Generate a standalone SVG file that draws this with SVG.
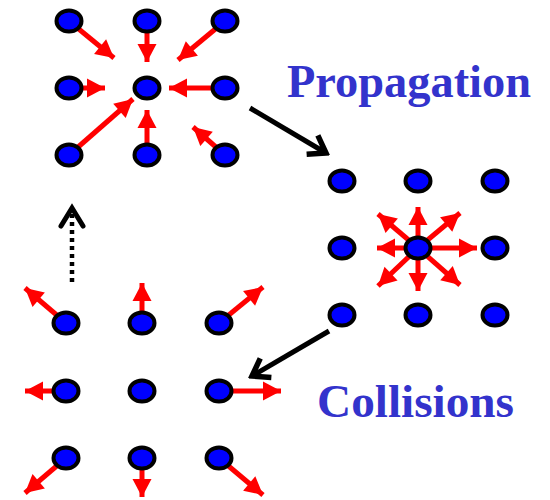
<svg xmlns="http://www.w3.org/2000/svg" width="550" height="500" viewBox="0 0 550 500">
<style>
.node ellipse{fill:#0000ff;stroke:#000;stroke-width:4}
.vel line{stroke:#ff0000;stroke-width:5;marker-end:url(#rh)}
.conn{stroke:#000;stroke-width:5;fill:none}
.lbl{font-family:"Liberation Serif","Times New Roman",serif;font-weight:bold;font-size:47px;fill:#3333cc}
</style>
<defs>
<marker id="rh" markerUnits="userSpaceOnUse" viewBox="-19 -10 20 20" refX="0" refY="0" markerWidth="20" markerHeight="20" orient="auto">
<path d="M0,0 L-18,-9.5 L-18,9.5 Z" fill="#ff0000"/>
</marker>
<marker id="bh" markerUnits="userSpaceOnUse" viewBox="-20 -14 24 28" refX="0" refY="0" markerWidth="24" markerHeight="28" orient="auto">
<path d="M-16,-11 L0,0 L-16,11" fill="none" stroke="#000" stroke-width="5.5" stroke-linejoin="miter"/>
</marker>
</defs>
<rect width="550" height="500" fill="#fff"/>

<g id="connectors">
<line class="conn" x1="250" y1="108" x2="326" y2="153" marker-end="url(#bh)"/>
<line class="conn" x1="329" y1="331" x2="252" y2="376" marker-end="url(#bh)"/>
<line x1="72" y1="282" x2="72" y2="214" stroke="#000" stroke-width="4.5" stroke-dasharray="4 4"/>
<path d="M61,226 L72,208 L83,226" fill="none" stroke="#000" stroke-width="5" stroke-linejoin="miter" stroke-linecap="round"/>
</g>

<g class="vel" id="vel-top">
<line x1="69" y1="21" x2="114" y2="58"/>
<line x1="147" y1="21" x2="147" y2="62"/>
<line x1="225" y1="21" x2="178" y2="60"/>
<line x1="69" y1="88" x2="105" y2="88"/>
<line x1="225" y1="88" x2="169" y2="88"/>
<line x1="69" y1="155" x2="133" y2="99"/>
<line x1="147" y1="155" x2="147" y2="110"/>
<line x1="225" y1="155" x2="193" y2="127"/>
</g>
<g class="vel" id="vel-right">
<line x1="418" y1="248" x2="418" y2="207"/>
<line x1="418" y1="248" x2="418" y2="291"/>
<line x1="418" y1="248" x2="377" y2="248"/>
<line x1="418" y1="248" x2="477" y2="248"/>
<line x1="418" y1="248" x2="460" y2="213"/>
<line x1="418" y1="248" x2="378" y2="214"/>
<line x1="418" y1="248" x2="460" y2="285"/>
<line x1="418" y1="248" x2="378" y2="286"/>
</g>
<g class="vel" id="vel-bottom">
<line x1="66" y1="323" x2="25" y2="288"/>
<line x1="142" y1="323" x2="142" y2="283"/>
<line x1="219" y1="323" x2="263" y2="287"/>
<line x1="66" y1="391" x2="25" y2="391"/>
<line x1="219" y1="391" x2="281" y2="391"/>
<line x1="66" y1="458" x2="25" y2="493"/>
<line x1="142" y1="458" x2="142" y2="497"/>
<line x1="219" y1="458" x2="263" y2="495"/>
</g>

<g id="top-grid">
<g id="t11" class="node"><ellipse cx="69" cy="21" rx="12.5" ry="10.5"/></g>
<g id="t12" class="node"><ellipse cx="147" cy="21" rx="12.5" ry="10.5"/></g>
<g id="t13" class="node"><ellipse cx="225" cy="21" rx="12.5" ry="10.5"/></g>
<g id="t21" class="node"><ellipse cx="69" cy="88" rx="12.5" ry="10.5"/></g>
<g id="t22" class="node"><ellipse cx="147" cy="88" rx="12.5" ry="10.5"/></g>
<g id="t23" class="node"><ellipse cx="225" cy="88" rx="12.5" ry="10.5"/></g>
<g id="t31" class="node"><ellipse cx="69" cy="155" rx="12.5" ry="10.5"/></g>
<g id="t32" class="node"><ellipse cx="147" cy="155" rx="12.5" ry="10.5"/></g>
<g id="t33" class="node"><ellipse cx="225" cy="155" rx="12.5" ry="10.5"/></g>
</g>
<g id="right-grid">
<g id="r11" class="node"><ellipse cx="342" cy="181" rx="12.5" ry="10.5"/></g>
<g id="r12" class="node"><ellipse cx="418" cy="181" rx="12.5" ry="10.5"/></g>
<g id="r13" class="node"><ellipse cx="495" cy="181" rx="12.5" ry="10.5"/></g>
<g id="r21" class="node"><ellipse cx="342" cy="248" rx="12.5" ry="10.5"/></g>
<g id="r22" class="node"><ellipse cx="418" cy="248" rx="12.5" ry="10.5"/></g>
<g id="r23" class="node"><ellipse cx="495" cy="248" rx="12.5" ry="10.5"/></g>
<g id="r31" class="node"><ellipse cx="342" cy="315" rx="12.5" ry="10.5"/></g>
<g id="r32" class="node"><ellipse cx="418" cy="315" rx="12.5" ry="10.5"/></g>
<g id="r33" class="node"><ellipse cx="495" cy="315" rx="12.5" ry="10.5"/></g>
</g>
<g id="bottom-grid">
<g id="b11" class="node"><ellipse cx="66" cy="323" rx="12.5" ry="10.5"/></g>
<g id="b12" class="node"><ellipse cx="142" cy="323" rx="12.5" ry="10.5"/></g>
<g id="b13" class="node"><ellipse cx="219" cy="323" rx="12.5" ry="10.5"/></g>
<g id="b21" class="node"><ellipse cx="66" cy="391" rx="12.5" ry="10.5"/></g>
<g id="b22" class="node"><ellipse cx="142" cy="391" rx="12.5" ry="10.5"/></g>
<g id="b23" class="node"><ellipse cx="219" cy="391" rx="12.5" ry="10.5"/></g>
<g id="b31" class="node"><ellipse cx="66" cy="458" rx="12.5" ry="10.5"/></g>
<g id="b32" class="node"><ellipse cx="142" cy="458" rx="12.5" ry="10.5"/></g>
<g id="b33" class="node"><ellipse cx="219" cy="458" rx="12.5" ry="10.5"/></g>
</g>

<text class="lbl" x="287" y="97" textLength="244" lengthAdjust="spacingAndGlyphs">Propagation</text>
<text class="lbl" x="317" y="417" textLength="197" lengthAdjust="spacingAndGlyphs">Collisions</text>
</svg>
